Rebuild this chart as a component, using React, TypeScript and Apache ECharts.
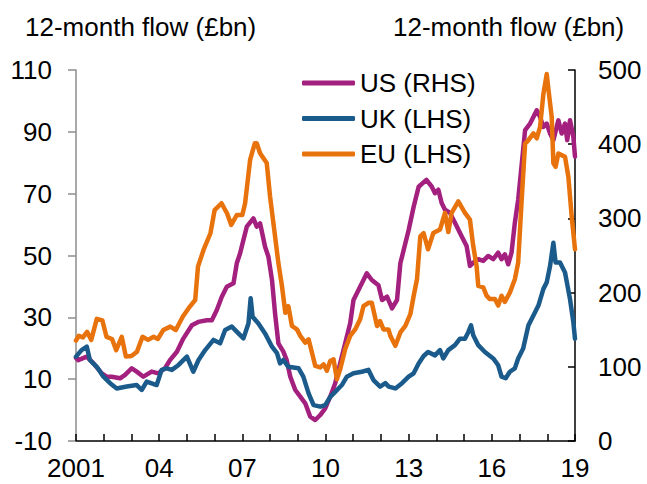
import React, { useEffect, useRef } from "react";
import * as echarts from "echarts";

// [year, value] readings
const usRhs: number[][] = [
  [2001.0, 112], [2001.08, 109], [2001.39, 113.6], [2001.63, 104.7], [2001.93, 91.2], [2002.1, 86.7],
  [2002.29, 86.7], [2002.59, 84.5], [2002.77, 89], [2003.01, 98], [2003.19, 93.5], [2003.43, 86.7],
  [2003.73, 93.5], [2003.97, 91.2], [2004.21, 98], [2004.39, 109], [2004.64, 120.3], [2004.87, 138],
  [2005.18, 156], [2005.41, 160.5], [2005.72, 162.7], [2005.9, 162.7], [2006.08, 176.5], [2006.26, 194.5],
  [2006.44, 208], [2006.68, 212.5], [2006.8, 239.5], [2006.92, 253], [2007.04, 271], [2007.16, 288.8],
  [2007.4, 300], [2007.52, 288.8], [2007.64, 293.4], [2007.82, 261.9], [2007.94, 248.4], [2008.07, 217],
  [2008.18, 172], [2008.3, 131.7], [2008.48, 120.4], [2008.6, 109], [2008.73, 86.7], [2008.91, 68.7],
  [2009.09, 59.7], [2009.27, 50.8], [2009.45, 32.7], [2009.63, 28.3], [2009.81, 35], [2009.99, 44],
  [2010.17, 59.7], [2010.35, 77.8], [2010.53, 104.7], [2010.71, 131.7], [2010.89, 158.6], [2011.01, 190],
  [2011.19, 203.5], [2011.37, 217], [2011.49, 226], [2011.67, 217], [2011.91, 210], [2012.04, 190],
  [2012.22, 194.5], [2012.4, 178.8], [2012.58, 190], [2012.7, 239.5], [2012.82, 257.4], [2013.0, 284.4],
  [2013.18, 315.8], [2013.36, 342.7], [2013.64, 352], [2013.83, 343], [2013.95, 334], [2014.07, 338.6],
  [2014.19, 320.7], [2014.31, 311.8], [2014.49, 307.4], [2014.67, 294], [2014.91, 276], [2015.09, 262.8],
  [2015.21, 236], [2015.33, 240.5], [2015.51, 245], [2015.69, 242.7], [2015.87, 249.4], [2016.05, 245],
  [2016.23, 253.8], [2016.35, 245], [2016.47, 251.6], [2016.59, 238.2], [2016.71, 253.8], [2016.83, 294],
  [2016.95, 325.2], [2017.07, 370], [2017.2, 419], [2017.38, 427.8], [2017.62, 445.6], [2017.74, 436.7],
  [2017.86, 423.3], [2017.98, 427.8], [2018.1, 414.4], [2018.22, 405.5], [2018.4, 432.2], [2018.52, 414.4],
  [2018.64, 427.8], [2018.72, 405.5], [2018.82, 432.2], [2018.94, 410], [2019.0, 383.2],
];

const ukLhs: number[][] = [
  [2001.0, 17.3], [2001.2, 19.4], [2001.39, 20.5], [2001.5, 16.2], [2001.75, 14], [2001.99, 10.8],
  [2002.23, 8.7], [2002.47, 7], [2002.83, 7.6], [2003.19, 8.1], [2003.37, 6.5], [2003.55, 9.2],
  [2003.91, 8.1], [2004.09, 13], [2004.27, 13.5], [2004.46, 13], [2004.7, 14.6], [2005.0, 17.3],
  [2005.23, 12.4], [2005.42, 16.2], [2005.66, 19.4], [2005.96, 22.7], [2006.2, 21.6], [2006.38, 25.9],
  [2006.62, 27], [2006.86, 24.8], [2007.04, 23.2], [2007.22, 28], [2007.3, 36.2], [2007.37, 30.2],
  [2007.58, 28], [2007.82, 24.8], [2008.07, 20.5], [2008.25, 18.4], [2008.36, 15.1], [2008.48, 16.2],
  [2008.66, 14], [2009.03, 13.5], [2009.2, 10.8], [2009.39, 5.4], [2009.57, 1.6], [2009.81, 1.1],
  [2009.99, 1.6], [2010.17, 4.3], [2010.35, 5.9], [2010.59, 8.1], [2010.77, 10.8], [2011.01, 11.9],
  [2011.31, 12.4], [2011.55, 13], [2011.73, 9.7], [2011.97, 7.6], [2012.16, 8.7], [2012.28, 7.6],
  [2012.52, 7], [2012.76, 8.7], [2013.0, 10.8], [2013.18, 11.9], [2013.36, 15.1], [2013.54, 17.5],
  [2013.7, 18.8], [2013.95, 17.7], [2014.13, 19.4], [2014.25, 16.7], [2014.43, 19.4], [2014.67, 21],
  [2014.85, 23.1], [2015.03, 23.1], [2015.15, 25.2], [2015.25, 27.4], [2015.33, 24.2], [2015.51, 21],
  [2015.75, 18.8], [2016.05, 16.7], [2016.23, 14.5], [2016.35, 10.8], [2016.5, 10.3], [2016.65, 12.4],
  [2016.83, 13.5], [2016.95, 16.7], [2017.13, 19.9], [2017.32, 27.4], [2017.5, 30.6], [2017.68, 33.8],
  [2017.86, 39.2], [2017.98, 41.3], [2018.1, 46.6], [2018.22, 54.1], [2018.3, 47.7], [2018.46, 47.7],
  [2018.64, 44.5], [2018.82, 35.9], [2018.94, 28.4], [2019.0, 23.1],
];

const euLhs: number[][] = [
  [2001.0, 22.5], [2001.1, 24], [2001.25, 23.5], [2001.4, 25.3], [2001.55, 22.7], [2001.75, 29.5],
  [2001.95, 29], [2002.1, 23.7], [2002.3, 23], [2002.45, 19.4], [2002.65, 23.7], [2002.8, 17.3],
  [2003.0, 17.5], [2003.2, 18.9], [2003.4, 23.7], [2003.6, 22.7], [2003.8, 23.7], [2003.95, 23],
  [2004.15, 25.9], [2004.4, 27], [2004.6, 25.9], [2004.85, 30.2], [2005.1, 33.4], [2005.3, 35.6],
  [2005.4, 46.4], [2005.6, 51.8], [2005.85, 57.2], [2006.0, 64.7], [2006.25, 66.9], [2006.45, 63.6],
  [2006.6, 59.9], [2006.8, 63.1], [2007.0, 63.1], [2007.1, 66.9], [2007.28, 80.9], [2007.45, 86.3],
  [2007.52, 86.3], [2007.64, 83.1], [2007.88, 79.9], [2008.0, 69.1], [2008.18, 56.2], [2008.3, 47.6],
  [2008.43, 40.1], [2008.55, 31.5], [2008.66, 33.6], [2008.79, 27.2], [2008.97, 26.1], [2009.09, 24],
  [2009.27, 21.8], [2009.39, 22.9], [2009.51, 18.6], [2009.63, 14.3], [2009.81, 13.8], [2009.93, 14.8],
  [2010.05, 12.7], [2010.17, 15.9], [2010.29, 16.4], [2010.41, 10], [2010.53, 13.2], [2010.71, 19.7],
  [2010.89, 24], [2011.07, 26.1], [2011.25, 29.4], [2011.37, 33.6], [2011.55, 34.7], [2011.67, 34.7],
  [2011.86, 27.2], [2011.97, 28.8], [2012.09, 26.1], [2012.27, 26.1], [2012.34, 24], [2012.52, 20.8],
  [2012.7, 25.1], [2012.88, 27.2], [2013.06, 31], [2013.18, 36.9], [2013.3, 42.3], [2013.42, 56.2],
  [2013.54, 57.2], [2013.7, 52], [2013.89, 57.3], [2014.13, 58.4], [2014.31, 63.8], [2014.43, 57.6],
  [2014.55, 63.8], [2014.79, 67.5], [2015.03, 63.8], [2015.21, 61.6], [2015.33, 53], [2015.45, 46.6],
  [2015.51, 40.2], [2015.69, 39.7], [2015.81, 37], [2015.93, 35.9], [2016.11, 35.9], [2016.23, 33.8],
  [2016.35, 37], [2016.47, 35], [2016.65, 38], [2016.83, 42.3], [2016.95, 47.7], [2017.07, 67],
  [2017.2, 86.2], [2017.32, 87.3], [2017.5, 89.5], [2017.62, 87.9], [2017.74, 91.6], [2017.86, 102.3],
  [2017.98, 108.7], [2018.06, 102.3], [2018.16, 94.8], [2018.22, 79.8], [2018.3, 78.7], [2018.4, 83],
  [2018.64, 81.9], [2018.76, 75.5], [2018.88, 62.7], [2019.0, 52],
];

const seriesNames = ["US (RHS)", "UK (LHS)", "EU (LHS)"];
const seriesColors = ["#a3207f", "#1b5b8c", "#e8720c"];
const axisTitle = "12-month flow (£bn)";
const FONT = "'Liberation Sans', Arial, Helvetica, sans-serif";
const FS = 26;

export default function App() {
  const ref = useRef<HTMLDivElement>(null);
  useEffect(() => {
    if (!ref.current) return;
    const chart = echarts.init(ref.current, null, { renderer: "svg" });
    const datasets = [usRhs, ukLhs, euLhs];
    chart.setOption({
      animation: false,
      backgroundColor: "#ffffff",
      textStyle: { fontFamily: FONT },
      grid: { left: 76, right: 72, top: 70, bottom: 43, containLabel: false },
      graphic: [
        { type: "text", left: 25, top: 14, style: { text: axisTitle, font: `${FS}px ${FONT}`, fill: "#000" } },
        { type: "text", left: 393, top: 14, style: { text: axisTitle, font: `${FS}px ${FONT}`, fill: "#000" } },
      ],
      legend: {
        orient: "vertical",
        left: 302,
        top: 70,
        padding: 0,
        itemWidth: 53,
        itemHeight: 5,
        itemGap: 9.5,
        textStyle: { fontSize: FS, color: "#000", fontFamily: FONT, padding: [0, 0, 0, 0] },
        data: seriesNames.map((n) => ({ name: n, icon: "roundRect" })),
      },
      xAxis: {
        type: "value",
        min: 2001,
        max: 2019,
        interval: 1,
        axisLine: { show: true, onZero: false, lineStyle: { color: "#000", width: 1.5 } },
        axisTick: { show: true, inside: true, length: 7, lineStyle: { color: "#000", width: 1.5 } },
        splitLine: { show: false },
        axisLabel: {
          fontSize: FS,
          color: "#000",
          margin: 14,
          fontFamily: FONT,
          formatter: (v: number) =>
            v === 2001 ? "2001" : (v - 2001) % 3 === 0 ? String(v % 100).padStart(2, "0") : "",
        },
      },
      yAxis: [
        {
          type: "value",
          min: -10,
          max: 110,
          interval: 20,
          position: "left",
          axisLine: { show: true, onZero: false, lineStyle: { color: "#8c8c8c", width: 1.5 } },
          axisTick: { show: true, inside: false, length: 8, lineStyle: { color: "#8c8c8c", width: 1.5 } },
          splitLine: { show: false },
          axisLabel: { fontSize: FS, color: "#000", margin: 24, fontFamily: FONT },
        },
        {
          type: "value",
          min: 0,
          max: 500,
          interval: 100,
          position: "right",
          axisLine: { show: true, onZero: false, lineStyle: { color: "#000", width: 1.5 } },
          axisTick: { show: true, inside: true, length: 7, lineStyle: { color: "#000", width: 1.5 } },
          splitLine: { show: false },
          axisLabel: { fontSize: FS, color: "#000", margin: 23, fontFamily: FONT },
        },
      ],
      series: seriesNames.map((name, i) => ({
        name,
        type: "line",
        yAxisIndex: i === 0 ? 1 : 0,
        data: datasets[i],
        showSymbol: false,
        symbol: "none",
        color: seriesColors[i],
        lineStyle: { width: 4.5, color: seriesColors[i], cap: "round", join: "round" },
        z: 2 + i,
      })),
    });
    return () => chart.dispose();
  }, []);
  return (
    <div
      ref={ref}
      style={{ position: "fixed", left: 0, top: 0, width: 647, height: 484, background: "#fff" }}
    />
  );
}
